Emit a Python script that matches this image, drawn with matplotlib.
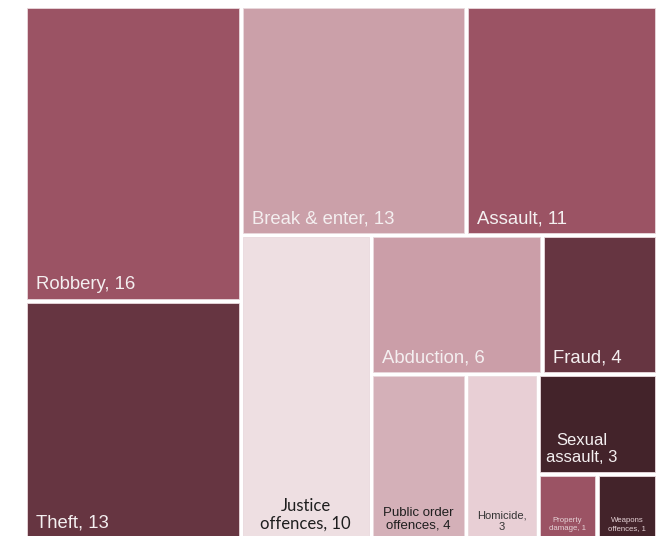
import matplotlib
matplotlib.use("Agg")
import matplotlib.pyplot as plt
from matplotlib.patches import Rectangle

# ---- data ----
categories = ["Robbery", "Theft", "Break & enter", "Assault", "Justice offences",
              "Abduction", "Fraud", "Public order offences", "Homicide",
              "Sexual assault", "Property damage", "Weapons offences"]
values = [16, 13, 13, 11, 10, 6, 4, 4, 3, 3, 1, 1]
labels = ["Robbery, 16", "Theft, 13", "Break & enter, 13", "Assault, 11",
          "Justice\noffences, 10", "Abduction, 6", "Fraud, 4",
          "Public order\noffences, 4", "Homicide,\n3", "Sexual\nassault, 3",
          "Property\ndamage, 1", "Weapons\noffences, 1"]
colors = ["#9B5364", "#663541", "#CBA0A9", "#9B5364", "#EEDFE2",
          "#CB9EA8", "#663541", "#D4B0B8", "#E8CFD5", "#43232A",
          "#9B5364", "#43232A"]

# strips of the treemap: (tile indices, 'v' = column at left, 'h' = row on top)
strips = [([0, 1], "v"), ([2, 3], "h"), ([4], "v"), ([5, 6], "h"),
          ([7], "v"), ([8], "v"), ([9], "h"), ([10, 11], "h")]

# label style per tile: (x frac, y frac, ha, colour, size, family)
W = "#F4EFF0"
big = 13.3
label_style = [
    (None, None, "left", W, big, "Liberation Sans"),
    (None, None, "left", W, big, "Liberation Sans"),
    (None, None, "left", W, big, "Liberation Sans"),
    (None, None, "left", W, big, "Liberation Sans"),
    (0.5, None, "center", "#1E1E1E", 12, "Lato"),
    (None, None, "left", W, big, "Liberation Sans"),
    (None, None, "left", W, big, "Liberation Sans"),
    (0.5, None, "center", "#1E1E1E", 9.5, "Liberation Sans"),
    (0.5, None, "center", "#333333", 8, "Liberation Sans"),
    (0.37, 0.75, "center", W, 12, "Liberation Sans"),
    (0.5, None, "center", "#E6D3D7", 5.6, "Liberation Sans"),
    (0.5, None, "center", "#E6D3D7", 5.6, "Liberation Sans"),
]


def layout(x0, y0, x1, y1):
    rects = {}
    total = float(sum(values))
    for idx, orient in strips:
        s = sum(values[i] for i in idx)
        if orient == "v":
            w = (x1 - x0) * s / total
            y = y0
            for i in idx:
                h = (y1 - y0) * values[i] / s
                rects[i] = (x0, y, w, h)
                y += h
            x0 += w
        else:
            h = (y1 - y0) * s / total
            x = x0
            for i in idx:
                w = (x1 - x0) * values[i] / s
                rects[i] = (x, y0, w, h)
                x += w
            y0 += h
        total -= s
    return rects


fig = plt.figure(figsize=(6.61, 5.36), dpi=100)
ax = fig.add_axes([0, 0, 1, 1])
ax.set_xlim(0, 661)
ax.set_ylim(536, 0)
ax.axis("off")

rects = layout(25, 6, 657, 541)
gap = 2.0
for i, (x, y, w, h) in rects.items():
    ax.add_patch(Rectangle((x + gap, y + gap), w - 2 * gap, h - 2 * gap,
                           facecolor=colors[i], edgecolor="#E9D9DD", lw=0.6))
    fx, fy, ha, col, size, fam = label_style[i]
    if ha == "left":
        tx, ty, va = x + gap + 9, y + h - 8, "bottom"
        if y + h > 536:
            ty = 536 - 4
    else:
        tx = x + w * fx
        if fy is None:
            ty, va = min(y + h, 536) - 4, "bottom"
        else:
            ty, va = y + h * fy, "center"
    ax.text(tx, ty, labels[i], ha=ha, va=va, color=col, fontsize=size,
            family=[fam, "DejaVu Sans"], multialignment="center",
            linespacing=1.15)

fig.savefig("out.png", dpi=100, facecolor="white")
